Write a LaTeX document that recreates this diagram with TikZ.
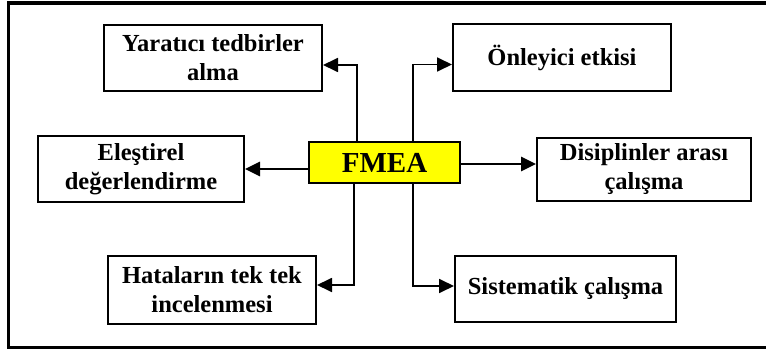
\documentclass[tikz,border=0pt]{standalone}
\usepackage{fontspec}
\setmainfont{Liberation Serif}
\usetikzlibrary{arrows.meta}
\definecolor{fmeayellow}{RGB}{255,255,0}
\begin{document}
\begin{tikzpicture}[x=1pt,y=-1pt,
  box/.style={draw=black,line width=2pt,inner sep=0pt,align=center,
    font=\fontsize{24.5}{29}\selectfont\bfseries},
  core/.style={box,fill=fmeayellow,font=\fontsize{29}{32}\selectfont\bfseries},
  elbow/.style={line width=1.8pt,-{Triangle[length=15pt,width=14pt]}},
  straight/.style={line width=2.7pt,-{Triangle[length=15pt,width=14pt]}}]
  \useasboundingbox (0,0) rectangle (766,350);
  % outer frame (its right side runs past the page edge)
  \draw[line width=3.5pt] (780,3) -- (8.5,3) -- (8.5,347.5) -- (780,347.5);

  % central node
  \node[core,minimum width=151pt,minimum height=41pt] (fmea) at (384.5,162.5) {FMEA};

  % surrounding boxes
  \node[box,minimum width=218pt,minimum height=66pt] (yar) at (213,58) {Yaratıcı tedbirler\\alma};
  \node[box,minimum width=218pt,minimum height=67pt] (onl) at (562,57.5) {Önleyici etkisi};
  \node[box,minimum width=206pt,minimum height=66pt] (ele) at (141,169) {Eleştirel\\değerlendirme};
  \node[box,minimum width=214pt,minimum height=63pt] (dis) at (644,169.5) {Disiplinler arası\\çalışma};
  \node[box,minimum width=208pt,minimum height=68pt] (hat) at (212,290) {Hataların tek tek\\incelenmesi};
  \node[box,minimum width=221pt,minimum height=66pt] (sis) at (565.5,289) {Sistematik çalışma};

  % connectors
  \draw[elbow] ([xshift=-27.5pt]fmea.north) |- ([yshift=-7pt]yar.east);
  \draw[elbow] ([xshift=28.5pt]fmea.north) |- ([yshift=-7pt]onl.west);
  \draw[elbow] ([xshift=-30.5pt]fmea.south) |- ([yshift=5pt]hat.east);
  \draw[elbow] ([xshift=28.5pt]fmea.south) |- ([yshift=3pt]sis.west);
  \draw[straight] (ele.east -| fmea.west) -- (ele.east);
  \draw[straight] ([yshift=-1.5pt]fmea.east) -- ([yshift=-1.5pt]fmea.east -| dis.west);
\end{tikzpicture}
\end{document}
